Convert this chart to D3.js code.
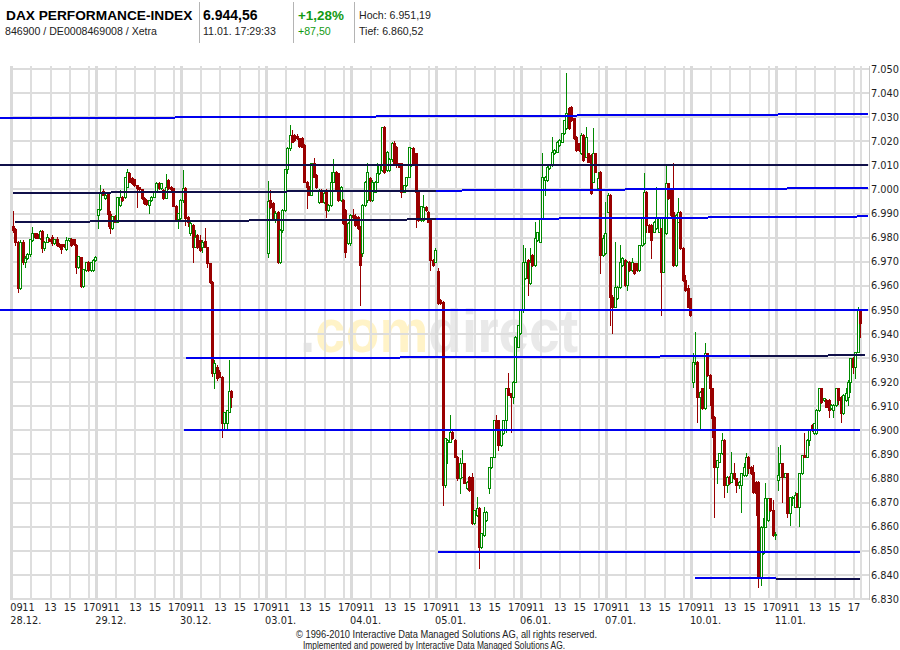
<!DOCTYPE html>
<html><head><meta charset="utf-8">
<script src="https://cdn.jsdelivr.net/npm/d3@7"></script>
<style>body{margin:0;background:#fff;} svg{display:block;}</style>
</head><body><svg id="c" width="900" height="650"></svg>
<script>
// ---------- data ----------
const days = ["28.12.","29.12.","30.12.","03.01.","04.01.","05.01.","06.01.","07.01.","10.01.","11.01."];
const hourTicks = [9, 11, 13, 15, 17];
const hourLabels = ["09", "11", "13", "15", "17"];
const priceTicks = d3.range(6830, 7051, 10);
const priceLabels = priceTicks.map(v => d3.format(",")(v).replace(",", "."));
const slotsPerDay = 35; // 15-minute candles, 09:00 - 17:45

// OHLC per day, 15-minute candles [open, high, low, close]
const d2812 = [[6985,6991,6982.5,6983],[6983.5,6984,6977,6978],[6978,6978.5,6957.5,6959],[6959,6979,6958.5,6978.3],[6978.3,6979,6969,6970],[6970,6972.5,6968,6971.5],[6971.5,6973.5,6971,6973],[6973,6979.4,6972.5,6979.4],[6979,6984.5,6978.8,6981.8],[6981.8,6982,6980,6980.4],[6981.5,6982,6979.8,6980],[6980,6983,6979.5,6982.7],[6982.7,6983,6974.1,6975.5],[6975.5,6978.5,6975,6978.3],[6978.3,6981.5,6978,6980.1],[6979.4,6980,6978.4,6978.6],[6980.4,6981,6976.9,6977.6],[6977.6,6979.5,6977.3,6979.3],[6979.4,6980.4,6976.5,6976.8],[6977.3,6977.6,6976.2,6976.5],[6977.2,6977.4,6973.5,6975.1],[6977.3,6977.5,6976.3,6976.5],[6975.3,6980.4,6975,6979],[6979.1,6980,6978.4,6979.9],[6979.4,6980,6976.5,6976.9],[6979.3,6979.5,6977,6977.3],[6976.9,6977.5,6965.2,6967.9],[6967.9,6972.5,6967.5,6972.3],[6971.8,6972,6959.6,6959.9],[6959.9,6966.8,6959.5,6966.8],[6966.5,6970,6966,6970],[6970,6970.5,6966,6966.5],[6966.5,6970,6966,6970],[6966.5,6971,6966,6970.7],[6970.7,6972.5,6970.5,6971.8]];
const d2912 = [[6989.6,6992,6983.8,6991.9],[6991.9,7001.8,6991.5,6998.4],[6999.3,7000,6997.5,6997.7],[6996.3,6998.6,6996,6997.7],[6998.4,6999,6985,6990],[6990,6991,6981.8,6983.8],[6983.8,6989,6983.5,6988.9],[6988.9,6989.2,6986.3,6986.6],[6986.6,6996.8,6986.3,6996.7],[6993.5,6999.7,6993,6996.7],[6996.7,6997.2,6995.3,6995.6],[6996.7,7005.3,6996.3,7005.3],[7001.1,7008.3,7000.9,7007.4],[7006.7,7007.2,7003,7003.2],[7004.6,7005,7002.2,7002.5],[7004.2,7004.5,7001.5,7001.8],[7001.8,7002,6992.8,7000.4],[7000.9,7001.2,6999.7,7000],[7000,7000.3,6996,6996.3],[6996.6,6997,6994,6994.2],[6995.6,6996,6993.5,6993.8],[6993.5,6995.8,6990.3,6995.6],[6995.6,6997.2,6995.3,6997],[6997,6999.3,6996.8,6999.1],[6999.1,7002.9,6998.8,7002.8],[7002.8,7003,7000.2,7000.4],[7000.4,7002.6,7000.2,7002.5],[6999.7,7000,6996.1,6996.3],[6996.6,7006.4,6996.3,7001.1],[7003.9,7004.2,7000.2,7000.4],[7001.1,7001.4,6999.7,7000],[7000.4,7000.6,6993,6993.1],[6993.1,6993.4,6987.3,6987.6],[6987.6,6990.1,6983.8,6990.1],[6988,6996,6987.8,6995.6]];
const d3012 = [[6995.6,7008.1,6995,7000.5],[7000.5,7001,6985.2,6988],[6988.4,6988.8,6985,6986.6],[6981.8,6986.5,6981,6986],[6985.2,6985.5,6970,6976],[6976.3,6983.2,6976,6980.4],[6981.1,6981.5,6975.5,6976],[6979,6981,6974.5,6974.9],[6976,6979,6974,6978.3],[6978.7,6983.9,6976,6976.3],[6976,6976.3,6968,6969.3],[6969.3,6969.5,6961,6961.7],[6961.7,6962,6922.5,6923.7],[6923.7,6929.2,6917.4,6927.8],[6926.4,6927,6921,6921.6],[6924.4,6925,6922,6922.3],[6922.3,6922.6,6897.4,6902.9],[6902.9,6907.8,6900.1,6907.8],[6902.9,6908.4,6900.1,6908.4],[6907.8,6929.2,6907.5,6916.3],[6916.3,6916.6,6909.8,6913.7]];
const d0301 = [[6973.5,7003.6,6972.1,6995.3],[6995.6,6999.8,6992.5,6992.9],[6994.2,6995,6987.5,6988],[6987.3,6991,6986.5,6990.1],[6990.8,6991,6969.3,6970],[6970,6983.5,6969.5,6983.2],[6983.2,6991.8,6982.5,6991.5],[6991.5,7008.5,6991,7008.3],[7008.3,7017.5,7007,7017.1],[7017.1,7026.8,7016.5,7022.6],[7022.6,7024.7,7019.5,7019.8],[7022.6,7023,7020.2,7020.5],[7022.2,7023,7020.8,7021.2],[7021.2,7021.5,7017.8,7018],[7021.2,7021.6,7017.5,7017.8],[7018.5,7019,7003,7003.2],[7003.2,7003.5,6992.2,7001.2],[7001.2,7001.5,6997.5,6997.7],[6997.7,7011,6997.5,7010.8],[7010.8,7012.9,7005,7005.3],[7006,7006.3,7000.8,7001.2],[6994.9,7000,6994.5,6999.8],[6999.8,7000.2,6994.6,6994.9],[6994.9,6998.8,6994.5,6998.4],[6999.8,7000,6988.7,6991.5],[6991.5,6993.8,6991,6993.6],[6993.6,7007.4,6993,7003.2],[7003.2,7012.5,7003,7007.4],[7007.4,7007.8,6999.5,6999.8],[7006.7,7007,6995.3,6995.6],[6995.6,7001.5,6995.3,7001.2],[6995.6,6996,6985.8,6986],[6991.5,6991.8,6972.1,6974.2],[6977.6,6986.3,6977.3,6986],[6977.6,6989.8,6977,6989.4]];
const d0401 = [[6989.4,6992,6987.5,6988.4],[6989,6990,6985,6985.2],[6988.7,6989,6983.5,6983.9],[6984.6,6985,6952,6968.6],[6973.5,6994,6972.5,6993.5],[6993.5,7003.5,6993,7003.2],[6995.6,7010.8,6995,7007.4],[7004.6,7005,6995.3,6995.6],[6995.6,7004,6995.3,7003.2],[6999.1,7003.5,6998.8,7003.2],[7003.2,7010.8,7003,7006.7],[7006.7,7010.5,7006.3,7010.1],[7008.1,7025.8,7007.5,7025.8],[7025.8,7026.2,7007,7007.4],[7008.1,7016,7007.7,7015.7],[7008.1,7013,7007.8,7012.5],[7012.5,7019.5,7012,7019.1],[7019.1,7020.2,7010,7010.1],[7017.5,7018,7009.5,7010.1],[7010.8,7011,7009.2,7009.5],[7010.8,7011,6996.7,6999.1],[6999.1,7001.8,6998.8,7001.8],[7001.8,7005.3,7001.5,7005.3],[7005.3,7017.5,7005,7017.5],[7010,7017.2,7009.8,7017.1],[7017.1,7017.5,7010.5,7010.8],[7015,7015.3,6984.6,6999.1],[6999.1,6999.4,6987,6987.3],[6987.3,6993.3,6987,6993.1],[6987.3,6997.7,6987,6992.9],[6992.9,6993.2,6991.2,6991.5],[6990.8,6991,6986.3,6986.6],[6987.3,6987.6,6966.6,6970.7],[6970.7,6971,6968.3,6968.6],[6970,6975.5,6969.7,6974.9]];
const d0501 = [[6966.2,6967.3,6952.5,6952.7],[6954.1,6954.5,6952.5,6952.7],[6953.4,6953.6,6869,6877.3],[6877.3,6896.7,6876.5,6896.7],[6895.3,6896.5,6886.3,6896],[6895.3,6906.4,6895,6899.5],[6899.5,6900,6896.5,6896.7],[6896,6896.3,6888.8,6889.1],[6889.1,6889.5,6879.5,6880.1],[6880.1,6888.4,6873.9,6886.3],[6880.8,6891.8,6880.5,6886.3],[6886.3,6886.6,6878,6878.3],[6875.9,6879,6875.5,6878.7],[6880.8,6881,6875,6875.2],[6880.8,6882.2,6861,6861.4],[6861.4,6867,6861,6866.9],[6864.9,6872.5,6864.5,6867.6],[6867.6,6868,6842.7,6851.7],[6851.7,6857.5,6851.3,6857.3],[6856.6,6868.3,6856.3,6866.3],[6862.8,6866.5,6862.5,6866.3],[6875.9,6884.9,6873.9,6884.9],[6884.9,6889.1,6884.5,6889.1],[6889.1,6904.3,6888.8,6904.3],[6904.3,6906.4,6900,6900.1],[6904.3,6904.5,6891.8,6893.9],[6893.9,6900.1,6893.5,6900.1],[6898.8,6904.3,6898.5,6904.3],[6904.3,6917.4,6899.5,6917.4],[6917.4,6923.7,6914.5,6914.7],[6915.4,6915.6,6899.5,6914],[6914,6920.5,6911.2,6920.2],[6920.2,6939,6920,6938.9],[6934.7,6943.7,6934.5,6943.7],[6940.3,6950.5,6940,6950]];
const d0601 = [[6949.9,6976.9,6949.3,6970],[6963.1,6975.6,6962.8,6970],[6970.7,6971,6956.2,6963.1],[6961,6975.6,6960.7,6970],[6972.8,6973.2,6968.3,6968.6],[6968.6,6986.6,6968.3,6979.7],[6979,6982.5,6978.7,6982.5],[6978.3,6988,6978,6988],[6988,7015,6987.7,7005.3],[7003.9,7005.6,6997.7,7005.3],[7003.9,7009.8,7003.6,7009.5],[7008.8,7010.5,7008.5,7010.2],[7010.2,7021.9,7009.9,7015.7],[7015,7016.7,7014.7,7016.4],[7015.7,7020,7015.4,7019.8],[7018.4,7020.8,7018.1,7020.5],[7019.8,7023.6,7019.5,7023.3],[7023.3,7029,7023,7028.8],[7025.4,7048.2,7025.1,7031.6],[7033.7,7034.4,7025,7025.4],[7034.4,7034.8,7028.5,7028.8],[7029.5,7029.8,7020.9,7021.2],[7021.9,7022.2,7016,7016.4],[7019.1,7019.4,7016.1,7016.4],[7015,7023.5,7014.7,7022.6],[7022.6,7022.9,7012,7012.2],[7013.6,7026.1,7013.3,7021.9],[7015,7015.3,7011.2,7011.5],[7014.3,7014.6,6998.1,6998.4],[7003.2,7025.4,7002.9,7015],[7015,7015.3,7007.1,7007.4],[7000.5,7007.4,6999.8,7004.6],[7007.4,7007.8,6965.2,6972.8],[6972.8,6981,6972.5,6980],[6973.5,6994.9,6973,6981.8]];
const d0701 = [[6990.8,6998.5,6990.5,6997.7],[6997.7,6998,6943.7,6955.5],[6955.5,6956,6940.3,6951.3],[6951.3,6978.3,6951,6959.6],[6955,6960,6954.5,6959.6],[6959.6,6976.9,6959.3,6970],[6968.6,6972,6968.3,6971.4],[6970.7,6971,6960,6960.3],[6960.3,6970.3,6958.3,6970],[6970,6970.3,6966.3,6966.6],[6966.6,6971.4,6966.3,6970],[6969.3,6969.6,6965,6965.2],[6969.3,6969.6,6966.3,6966.6],[6966.6,6977,6966.3,6976.9],[6976.9,6988,6976.6,6988],[6977.6,7006.7,6977.3,6999.1],[6999.1,6999.4,6982.2,6985.2],[6985.2,6985.5,6982.2,6982.5],[6985.2,6985.5,6971.4,6979],[6982.5,6986.9,6982.2,6986.6],[6983.9,7001.2,6983.6,6988],[6982.5,6988.3,6982.2,6988],[6983.9,6984.2,6947.9,6965.9],[6965.9,6988.3,6965.6,6988],[6981.8,7010.2,6981.5,7002.5],[7002.5,7002.8,6995.9,6996.3],[6999.8,7000.1,6989.1,6989.4],[6990.8,7010.8,6968.3,6968.6],[6968.6,6989.7,6968.3,6989.4],[6986.6,6996.3,6986.3,6990.8],[6990.8,6991.1,6975.3,6975.6],[6975.6,6976,6962.1,6962.4],[6962.4,6964.5,6958,6958.3],[6958.9,6960.3,6951,6951.3],[6954.8,6955.1,6947.6,6947.9]];
const d1001 = [[6920.2,6932,6918.1,6928.5],[6927.8,6941,6927.5,6928.5],[6928.5,6928.8,6903.6,6914],[6914,6916.4,6900.8,6916.1],[6917.4,6917.7,6908.8,6909.1],[6909.1,6936.1,6908.8,6932],[6932,6932.3,6922.7,6923],[6923,6923.3,6910.5,6917.4],[6917.4,6917.7,6897.4,6905],[6905.7,6906,6864.2,6884.9],[6884.9,6887.7,6878,6887.7],[6887,6890.8,6886.7,6890.5],[6890.5,6898.8,6890.2,6896],[6896,6896.3,6872.5,6877.3],[6877.3,6881,6874.5,6880.8],[6880.8,6881.1,6877.7,6878],[6878.7,6891.1,6878.4,6882.1],[6882.1,6886.3,6879.8,6880.1],[6880.1,6880.4,6874.5,6877.3],[6877.3,6879,6876,6878.7],[6877.3,6882.5,6866.2,6882.1],[6881.5,6886.3,6881.2,6884.9],[6881.5,6890.5,6881.2,6889.1],[6889.1,6889.4,6882.1,6884.2],[6884.9,6885.2,6882,6882.1],[6882.8,6885.6,6874.2,6874.5],[6878.7,6879,6864.9,6873.9],[6878.7,6879,6835.1,6838.6],[6838.6,6860.3,6835.8,6860],[6849,6863.5,6848.7,6860],[6860,6878,6859.7,6871.8],[6862.8,6871.8,6862.5,6871.8],[6871.8,6872.1,6866.5,6866.9],[6866.9,6871.1,6856.2,6856.5],[6856.5,6858,6855,6857.1]];
const d1101 = [[6879.4,6893.2,6875.2,6881.5],[6880.8,6893.9,6880.5,6886.3],[6886.3,6886.6,6870.4,6880.8],[6880.8,6882.5,6880.5,6882.1],[6882.1,6882.4,6864,6865.6],[6865.6,6872.5,6860.7,6872.5],[6871.8,6872.6,6869,6872.5],[6868.3,6874.5,6868,6873.2],[6873.9,6874.2,6868,6868.3],[6868.3,6882.4,6860.5,6882.1],[6882.1,6889.8,6881.8,6889.8],[6889.8,6898.8,6888.8,6889.1],[6889.1,6896.3,6888.8,6896],[6896,6900.4,6893.9,6900.1],[6902.2,6902.5,6899.8,6900.1],[6898.8,6903.2,6898.5,6902.9],[6898.8,6908.7,6898.5,6908.4],[6908.4,6917.7,6908.1,6917.4],[6917.4,6917.7,6911.2,6911.9],[6912.6,6913.5,6912.3,6913.3],[6912.6,6912.9,6909.5,6909.8],[6912.6,6912.9,6905.7,6908.4],[6909.1,6910.8,6908.8,6910.5],[6908.4,6910.8,6905.7,6910.5],[6910.5,6917.7,6910.2,6917.4],[6917.4,6917.7,6911,6912.6],[6914,6914.3,6903.6,6907.1],[6907.1,6914.9,6906.8,6914.7],[6912.6,6917.4,6912.3,6915.4],[6914,6920.9,6910.5,6920.2],[6920.2,6930.2,6916.1,6929.9],[6929.9,6930.6,6923.7,6926.4],[6926.4,6932.7,6921.6,6932.7],[6932.7,6951.2,6932.4,6950],[6950,6950.3,6938.9,6944.6]];
const candleDays = [d2812, d2912, d3012, d0301, d0401, d0501, d0601, d0701, d1001, d1101];

// user-drawn trend lines: [slot, value] end points
const trendLines = [
  {from: [-4.8, 7029.5], to: [352.8, 7031.3], kind: "blue"},
  {from: [-4.8, 7010.1], to: [352.8, 7010.1], kind: "dark"},
  {from: [0.5, 6998.5], to: [175.0, 6999.5], kind: "dark"},
  {from: [175.0, 6999.5], to: [352.8, 7000.6], kind: "blue"},
  {from: [1.4, 6986.5], to: [175.0, 6987.6], kind: "dark"},
  {from: [175.0, 6987.6], to: [352.8, 6988.8], kind: "blue"},
  {from: [-4.8, 6950.0], to: [352.8, 6950.0], kind: "blue"},
  {from: [71.8, 6929.9], to: [304.0, 6930.8], kind: "blue"},
  {from: [304.0, 6930.8], to: [351.6, 6931.2], kind: "dark"},
  {from: [71.0, 6900.0], to: [349.5, 6900.0], kind: "blue"},
  {from: [175.6, 6849.6], to: [349.5, 6849.5], kind: "blue"},
  {from: [281.5, 6838.7], to: [315.0, 6838.7], kind: "blue"},
  {from: [315.0, 6838.4], to: [349.5, 6838.3], kind: "dark"}
];

// header texts
const title = "DAX PERFORMANCE-INDEX";
const subtitle = "846900 / DE0008469008 / Xetra";
const lastPrice = "6.944,56";
const lastTime = "11.01. 17:29:33";
const changePct = "+1,28%";
const changeAbs = "+87,50";
const highText = "Hoch: 6.951,19";
const lowText = "Tief: 6.860,52";
const watermark = ".comdirect";
const footer1 = "\u00A9 1996-2010 Interactive Data Managed Solutions AG, all rights reserved.";
const footer2 = "Implemented and powered by Interactive Data Managed Solutions AG.";

// ---------- drawing ----------
const svg = d3.select("#c");
const x = d3.scaleLinear().domain([0, slotsPerDay * days.length]).range([11.7, 861.3]);
const y = d3.scaleLinear().domain([6830, 7050]).range([599, 69]);
const px = v => Math.round(v);
const SANS = "'Liberation Sans', Arial, sans-serif";
const AX = "'DejaVu Sans', sans-serif";

// header
const hdr = svg.append("g").attr("font-family", SANS);
hdr.append("text").attr("x", 6).attr("y", 20).attr("font-size", 13.7).attr("font-weight", "bold").text(title);
hdr.append("text").attr("x", 5).attr("y", 35).attr("font-size", 10.6).attr("fill", "#222").text(subtitle);
[199, 293, 354].forEach(sx => hdr.append("line").attr("x1", sx + 0.5).attr("x2", sx + 0.5).attr("y1", 2).attr("y2", 43).attr("stroke", "#b4b4b4"));
hdr.append("text").attr("x", 203).attr("y", 20).attr("font-size", 14).attr("font-weight", "bold").text(lastPrice);
hdr.append("text").attr("x", 203).attr("y", 35).attr("font-size", 10.6).attr("fill", "#222").text(lastTime);
hdr.append("text").attr("x", 298).attr("y", 20).attr("font-size", 13.4).attr("font-weight", "bold").attr("fill", "#129a12").text(changePct);
hdr.append("text").attr("x", 298).attr("y", 35).attr("font-size", 10.6).attr("fill", "#129a12").text(changeAbs);
hdr.append("text").attr("x", 359).attr("y", 19).attr("font-size", 10.6).attr("fill", "#222").text(highText);
hdr.append("text").attr("x", 359).attr("y", 35).attr("font-size", 10.6).attr("fill", "#222").text(lowText);

// watermark: one text, colour split by a hard-stop gradient (grey "." / yellow "com" / grey "direct")
const defs = svg.append("defs");
const gr = defs.append("linearGradient").attr("id", "wmfill").attr("gradientUnits", "userSpaceOnUse")
  .attr("x1", 300).attr("x2", 578).attr("y1", 0).attr("y2", 0);
[[0, "#e6e6e6"], [0.05, "#e6e6e6"], [0.05, "#fff3c8"], [0.465, "#fff3c8"], [0.465, "#e9e9e9"], [1, "#e9e9e9"]]
  .forEach(s => gr.append("stop").attr("offset", s[0]).attr("stop-color", s[1]));
svg.append("text").attr("x", 300).attr("y", 352).attr("font-family", SANS)
  .attr("font-size", 62).attr("font-weight", "bold").attr("textLength", 278).attr("lengthAdjust", "spacingAndGlyphs")
  .attr("fill", "url(#wmfill)").text(watermark);

// grid
const grid = svg.append("g").attr("shape-rendering", "crispEdges");
priceTicks.forEach(v => grid.append("line").attr("x1", 10).attr("x2", 869).attr("y1", px(y(v))).attr("y2", px(y(v)))
  .attr("stroke", "#dcdcdc").attr("stroke-width", 2));
days.forEach((d, i) => {
  hourTicks.forEach((h, j) => {
    const xx = x(i * slotsPerDay + (h - 9) * 4);
    grid.append("line").attr("x1", xx).attr("x2", xx).attr("y1", 66).attr("y2", 600)
      .attr("stroke", j === 0 ? "#dadada" : "#dedede").attr("stroke-width", j === 0 ? 3.5 : 2);
  });
});
grid.append("line").attr("x1", x(slotsPerDay * days.length)).attr("x2", x(slotsPerDay * days.length)).attr("y1", 66).attr("y2", 600).attr("stroke", "#dedede").attr("stroke-width", 2);
grid.append("line").attr("x1", 869.5).attr("x2", 869.5).attr("y1", 66).attr("y2", 600).attr("stroke", "#c8c8c8").attr("stroke-width", 1);

// candles
const cg = svg.append("g").attr("shape-rendering", "crispEdges");
candleDays.forEach((arr, di) => {
  arr.forEach((c, k) => {
    const [o, h, l, cl] = c;
    const cx = px(x(di * slotsPerDay + k + 0.5));
    const up = cl >= o;
    const col = up ? "#008a00" : "#990000";
    cg.append("line").attr("x1", cx + 0.5).attr("x2", cx + 0.5).attr("y1", px(y(h))).attr("y2", px(y(l)) + 1).attr("stroke", col);
    const top = px(y(Math.max(o, cl))), bot = px(y(Math.min(o, cl)));
    if (up) {
      cg.append("rect").attr("x", cx - 0.5).attr("y", top + 0.5).attr("width", 2).attr("height", Math.max(1, bot - top))
        .attr("fill", "#fff").attr("stroke", col).attr("stroke-width", 1);
    } else {
      cg.append("rect").attr("x", cx - 1).attr("y", top).attr("width", 3).attr("height", Math.max(1, bot - top + 1)).attr("fill", col);
    }
  });
});

// trend lines
const tg = svg.append("g").attr("shape-rendering", "crispEdges");
trendLines.forEach(t => tg.append("line")
  .attr("x1", x(t.from[0])).attr("y1", y(t.from[1])).attr("x2", x(t.to[0])).attr("y2", y(t.to[1]))
  .attr("stroke", t.kind === "blue" ? "#0000ee" : "#10104a").attr("stroke-width", 2));

// right axis labels
const ax = svg.append("g").attr("font-family", AX).attr("font-size", 9.8).attr("fill", "#1e1e1e");
priceTicks.forEach((v, i) => ax.append("text").attr("x", 871).attr("y", y(v) + 3.6).text(priceLabels[i]));

// bottom axis labels
days.forEach((d, i) => {
  const x0 = x(i * slotsPerDay);
  hourTicks.forEach((h, j) => {
    const xx = x(i * slotsPerDay + (h - 9) * 4);
    const t = ax.append("text").attr("y", 611).text(hourLabels[j]);
    if (j === 0) t.attr("x", x0 - 1.5);
    else if (j === 1) t.attr("x", x0 + 10.6);
    else t.attr("x", xx).attr("text-anchor", "middle");
  });
  ax.append("text").attr("x", x0 - 1.5).attr("y", 624).text(d);
});

// footer
const ft = svg.append("g").attr("font-family", SANS).attr("font-size", 10).attr("fill", "#222");
ft.append("text").attr("x", 296).attr("y", 638).attr("textLength", 301).attr("lengthAdjust", "spacingAndGlyphs").text(footer1);
ft.append("text").attr("x", 303).attr("y", 649).attr("textLength", 262).attr("lengthAdjust", "spacingAndGlyphs").text(footer2);
</script></body></html>
